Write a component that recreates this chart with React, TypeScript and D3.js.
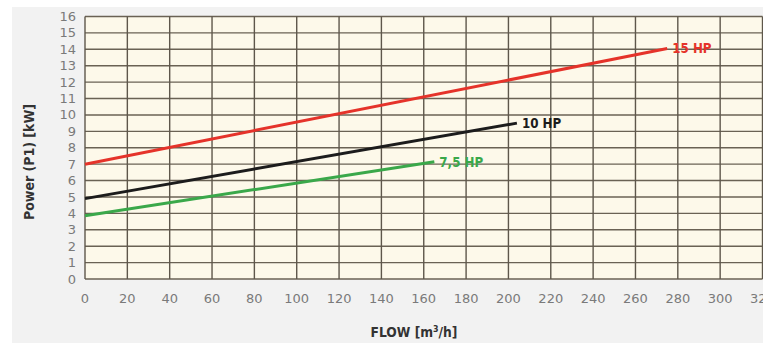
import React, { useEffect, useRef } from 'react';
import * as d3 from 'd3';

const xTicks = [0, 20, 40, 60, 80, 100, 120, 140, 160, 180, 200, 220, 240, 260, 280, 300, 320];
const yTicks = [0, 1, 2, 3, 4, 5, 6, 7, 8, 9, 10, 11, 12, 13, 14, 15, 16];

const seriesNames = ['15 HP', '10 HP', '7,5 HP'];
const seriesColors = ['#e5332a', '#1c1c1c', '#3aa84a'];
const flow15 = [0, 275];
const power15 = [7, 14.05];
const flow10 = [0, 204];
const power10 = [4.9, 9.5];
const flow75 = [0, 165];
const power75 = [3.85, 7.15];

const W = 763;
const H = 343;
const FONT = '"DejaVu Sans", sans-serif';

const App: React.FC = () => {
  const svgRef = useRef<SVGSVGElement>(null);

  useEffect(() => {
    if (!svgRef.current) return;
    const svg = d3.select(svgRef.current);
    svg.selectAll('*').remove();

    const x = d3.scaleLinear().domain([0, 320]).range([85, 762.5]);
    const y = d3.scaleLinear().domain([0, 16]).range([279, 16.5]);

    // page background
    svg.append('rect').attr('width', W).attr('height', H).attr('fill', '#ffffff');
    svg.append('rect').attr('x', 12).attr('y', 7).attr('width', W - 12).attr('height', H - 7).attr('fill', '#f2f2f2');

    // plot area
    svg.append('rect')
      .attr('x', x(0)).attr('y', y(16))
      .attr('width', x(320) - x(0)).attr('height', y(0) - y(16))
      .attr('fill', '#fdf9ea');

    const grid = svg.append('g');
    grid.selectAll('.hg')
      .data(yTicks)
      .enter().append('line')
      .attr('x1', x(0)).attr('x2', x(320))
      .attr('y1', d => y(d)).attr('y2', d => y(d))
      .attr('stroke', '#6a6254')
      .attr('stroke-width', 1.4);
    grid.selectAll('.vg')
      .data(xTicks)
      .enter().append('line')
      .attr('x1', d => x(d)).attr('x2', d => x(d))
      .attr('y1', y(16)).attr('y2', y(0))
      .attr('stroke', '#5e574b')
      .attr('stroke-width', 1.4);

    // tick labels
    svg.selectAll('.yl')
      .data(yTicks)
      .enter().append('text')
      .attr('x', 76)
      .attr('y', d => y(d))
      .attr('dy', '0.35em')
      .attr('text-anchor', 'end')
      .attr('font-family', FONT)
      .attr('font-size', 13)
      .attr('fill', '#7a7a7a')
      .text(d => d);

    svg.selectAll('.xl')
      .data(xTicks)
      .enter().append('text')
      .attr('x', d => x(d))
      .attr('y', 303)
      .attr('text-anchor', 'middle')
      .attr('font-family', FONT)
      .attr('font-size', 13)
      .attr('fill', '#7a7a7a')
      .text(d => d);

    // axis titles (condensed look via horizontal squeeze)
    const xt = svg.append('text')
      .attr('transform', 'translate(414, 337) scale(0.88, 1)')
      .attr('text-anchor', 'middle')
      .attr('font-family', FONT)
      .attr('font-weight', 'bold')
      .attr('font-size', 14)
      .attr('fill', '#333');
    xt.append('tspan').text('FLOW [m');
    xt.append('tspan').attr('font-size', 9).attr('dy', -5).text('3');
    xt.append('tspan').attr('dy', 5).text('/h]');

    svg.append('text')
      .attr('transform', 'translate(34, 162) rotate(-90) scale(0.9, 1)')
      .attr('text-anchor', 'middle')
      .attr('font-family', FONT)
      .attr('font-weight', 'bold')
      .attr('font-size', 14)
      .attr('fill', '#333')
      .text('Power  (P1)  [kW]');

    // curves
    const series = [
      { flow: flow15, power: power15 },
      { flow: flow10, power: power10 },
      { flow: flow75, power: power75 },
    ];
    const line = d3.line<[number, number]>().x(d => x(d[0])).y(d => y(d[1]));

    series.forEach((s, i) => {
      const pts = s.flow.map((f, k) => [f, s.power[k]] as [number, number]);
      svg.append('path')
        .attr('d', line(pts))
        .attr('fill', 'none')
        .attr('stroke', seriesColors[i])
        .attr('stroke-width', 3);
      const last = pts[pts.length - 1];
      svg.append('text')
        .attr('transform', `translate(${x(last[0]) + 5}, ${y(last[1])}) scale(0.85, 1)`)
        .attr('dy', '0.35em')
        .attr('font-family', FONT)
        .attr('font-weight', 'bold')
        .attr('font-size', 14)
        .attr('fill', seriesColors[i])
        .text(seriesNames[i]);
    });
  }, []);

  return (
    <svg ref={svgRef} width={W} height={H} style={{ display: 'block', position: 'absolute', left: 0, top: 0 }} />
  );
};

export default App;
